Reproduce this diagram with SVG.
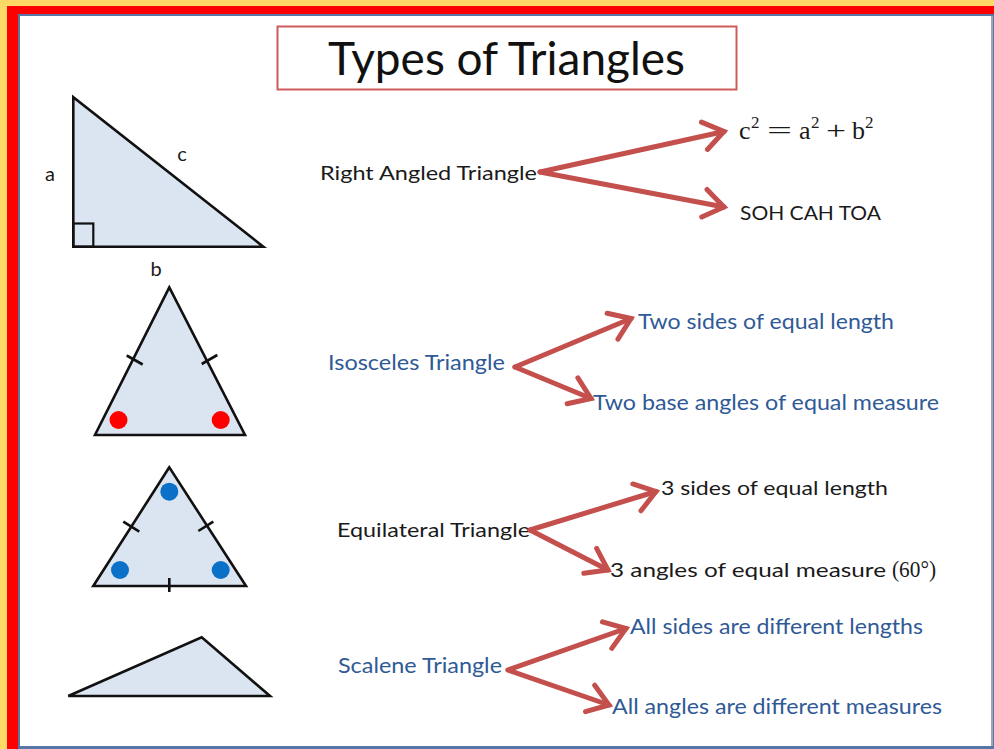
<svg xmlns="http://www.w3.org/2000/svg" width="994" height="749" viewBox="0 0 994 749">
<defs>
<style>
.tri{fill:#dbe5f1;stroke:#111;stroke-width:2.6;stroke-linejoin:miter}
.tick{stroke:#111;stroke-width:2.6;fill:none}
.lbl{font-family:Lato,"Open Sans",sans-serif;font-size:20px;fill:#1a1a1a}
.blk{font-family:Lato,"Open Sans",sans-serif;font-size:20px;fill:#1a1a1a}
.blu{font-family:Lato,"Open Sans",sans-serif;font-size:21px;fill:#2f5a96}
.math{font-family:"Liberation Serif","DejaVu Serif",serif;font-size:24px;fill:#1a1a1a}
.f{font-size:26px}
.sup{font-size:17px}
.arr{stroke:#c4504e;stroke-width:5;fill:none;stroke-linecap:round;marker-end:url(#head)}
.rdot{fill:#ff0000}
.bdot{fill:#0a70c8}
</style>
<marker id="head" viewBox="0 0 28 34" refX="23" refY="17" markerWidth="28" markerHeight="34" markerUnits="userSpaceOnUse" orient="auto">
<path d="M3,3 L23,17 L3,31" fill="none" stroke="#c4504e" stroke-width="5" stroke-linecap="round" stroke-linejoin="miter"/>
</marker>
</defs>
<rect x="0" y="0" width="994" height="749" fill="#ffd966"/>
<rect x="7" y="6" width="987" height="743" fill="#ff0000"/>
<rect x="18" y="14" width="976" height="735" fill="#5876a6"/>
<rect x="20" y="16" width="971" height="730" fill="#ffffff"/>
<line x1="992" y1="16" x2="992" y2="746" stroke="#9aa6b8" stroke-width="2"/>

<g id="title">
<rect x="277.5" y="26.5" width="459" height="63" fill="#ffffff" stroke="#cd5c5b" stroke-width="2"/>
<text x="328" y="75" font-family="Lato,'Open Sans',sans-serif" font-size="46" fill="#111" textLength="357" lengthAdjust="spacingAndGlyphs">Types of Triangles</text>
</g>

<g id="right-triangle">
<polygon class="tri" points="73.3,97.3 73.3,246.7 263.3,246.7"/>
<rect x="73.3" y="223.5" width="20" height="23.2" fill="none" stroke="#111" stroke-width="2.2"/>
<text class="lbl" x="50" y="181" text-anchor="middle">a</text>
<text class="lbl" x="182" y="161" text-anchor="middle">c</text>
<text class="lbl" x="156" y="276" text-anchor="middle">b</text>
</g>

<g id="isosceles-triangle">
<polygon class="tri" points="169.3,287.3 95,435 245,435"/>
<line class="tick" x1="126.7" y1="355.5" x2="142.7" y2="364.5"/>
<line class="tick" x1="201.7" y1="364" x2="217.3" y2="355"/>
<circle class="rdot" cx="118.5" cy="420" r="9"/>
<circle class="rdot" cx="220.7" cy="420" r="9"/>
</g>

<g id="equilateral-triangle">
<polygon class="tri" points="169.3,467.3 93.3,586 246,586"/>
<line class="tick" x1="123.3" y1="521.7" x2="139.3" y2="531.7"/>
<line class="tick" x1="198.3" y1="531" x2="213.3" y2="521.7"/>
<line class="tick" x1="169.3" y1="578" x2="169.3" y2="592"/>
<circle class="bdot" cx="169.3" cy="491.7" r="9"/>
<circle class="bdot" cx="120" cy="570" r="9"/>
<circle class="bdot" cx="220.7" cy="570" r="9"/>
</g>

<g id="scalene-triangle">
<polygon class="tri" points="68.3,696 201.7,637.3 270,696"/>
</g>

<g id="right-label"><text class="blk" x="320" y="180" textLength="217" lengthAdjust="spacingAndGlyphs">Right Angled Triangle</text></g>
<g id="right-fact1"><text class="math f" y="139"><tspan x="739">c</tspan><tspan class="sup" x="751" y="128">2</tspan><tspan x="767" y="139" textLength="25" lengthAdjust="spacingAndGlyphs">=</tspan><tspan x="799">a</tspan><tspan class="sup" x="811" y="128">2</tspan><tspan x="826" y="139" textLength="20" lengthAdjust="spacingAndGlyphs">+</tspan><tspan x="852">b</tspan><tspan class="sup" x="865" y="128">2</tspan></text></g>
<g id="right-fact2"><text class="blk" x="740" y="220" textLength="141" lengthAdjust="spacingAndGlyphs">SOH CAH TOA</text></g>

<g id="isosceles-label"><text class="blu" x="328" y="370" textLength="177" lengthAdjust="spacingAndGlyphs">Isosceles Triangle</text></g>
<g id="isosceles-fact1"><text class="blu" x="638" y="329" textLength="256" lengthAdjust="spacingAndGlyphs">Two sides of equal length</text></g>
<g id="isosceles-fact2"><text class="blu" x="593" y="410" textLength="346" lengthAdjust="spacingAndGlyphs">Two base angles of equal measure</text></g>

<g id="equilateral-label"><text class="blk" x="337" y="537" textLength="193" lengthAdjust="spacingAndGlyphs">Equilateral Triangle</text></g>
<g id="equilateral-fact1"><text class="blk" x="661" y="495" textLength="227" lengthAdjust="spacingAndGlyphs">3 sides of equal length</text></g>
<g id="equilateral-fact2"><text class="blk" x="610" y="577"><tspan textLength="276" lengthAdjust="spacingAndGlyphs">3 angles of equal measure</tspan><tspan class="math" x="892" textLength="44" lengthAdjust="spacingAndGlyphs">(60°)</tspan></text></g>

<g id="scalene-label"><text class="blu" x="338" y="673" textLength="164" lengthAdjust="spacingAndGlyphs">Scalene Triangle</text></g>
<g id="scalene-fact1"><text class="blu" x="630" y="634" textLength="293" lengthAdjust="spacingAndGlyphs">All sides are different lengths</text></g>
<g id="scalene-fact2"><text class="blu" x="612" y="714" textLength="330" lengthAdjust="spacingAndGlyphs">All angles are different measures</text></g>

<g id="connectors">
<path class="arr" d="M540,172 L724,131.5"/>
<path class="arr" d="M540,172 L724,207"/>
<path class="arr" d="M515,367 L631,318.5"/>
<path class="arr" d="M515,367 L591,398.5"/>
<path class="arr" d="M530,530 L656,491.5"/>
<path class="arr" d="M530,530 L608,570"/>
<path class="arr" d="M508,670 L626,628.5"/>
<path class="arr" d="M508,670 L609,705"/>
</g>
</svg>
